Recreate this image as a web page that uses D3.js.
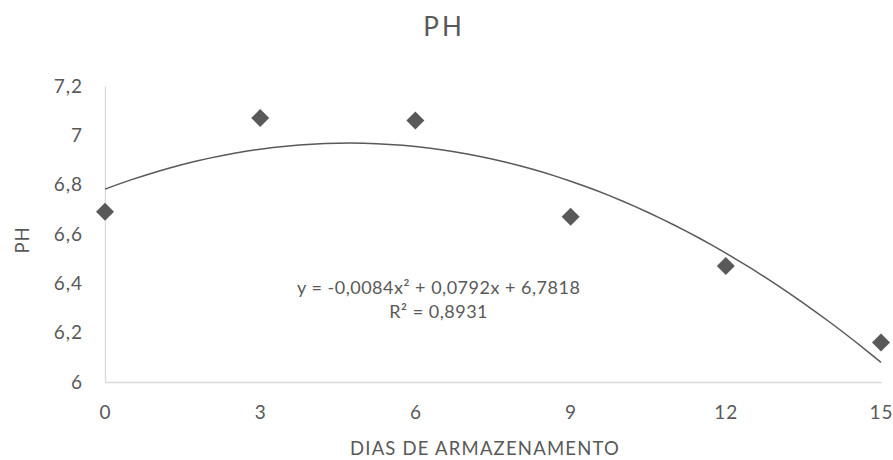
<!DOCTYPE html>
<html>
<head>
<meta charset="utf-8">
<script src="https://cdn.jsdelivr.net/npm/d3@7"></script>
<style>
  body { margin: 0; background: #fff; }
  text { font-family: Lato, "Open Sans", sans-serif; fill: #595959; }
</style>
</head>
<body>
<svg width="893" height="460"></svg>
<script>
// data
const dias = [0, 3, 6, 9, 12, 15];
const ph = [6.69, 7.07, 7.06, 6.67, 6.47, 6.16];
const xTicks = [0, 3, 6, 9, 12, 15];
const yTicks = [6, 6.2, 6.4, 6.6, 6.8, 7, 7.2];
// polynomial trendline coefficients (c0 + c1 x + c2 x^2), as shown on the chart
const trendCoef = [6.7818, 0.0792, -0.0084];
const trendLabel = ["y = -0,0084x² + 0,0792x + 6,7818", "R² = 0,8931"];

let svg = d3.select("svg");
let margin = {top: 86, right: 12, bottom: 78, left: 105};
let width = 893 - margin.left - margin.right, height = 460 - margin.top - margin.bottom;
let g = svg.append("g").attr("transform", "translate(" + margin.left + "," + margin.top + ")");

let x = d3.scaleLinear().domain([0, 15]).range([0, width]);
let y = d3.scaleLinear().domain([6, 7.2]).range([height, 0]);
let br = d3.formatLocale({decimal: ",", thousands: ".", grouping: [3], currency: ["", ""]});
let fmt = br.format("~g");

// axes
let xAxis = g.append("g")
  .attr("transform", "translate(0," + height + ")")
  .call(d3.axisBottom(x).tickValues(xTicks).tickSize(0).tickPadding(24).tickFormat(fmt));
let yAxis = g.append("g")
  .call(d3.axisLeft(y).tickValues(yTicks).tickSize(0).tickPadding(22).tickFormat(fmt));
[xAxis, yAxis].forEach(a => {
  a.select(".domain").attr("stroke", "#d9d9d9").attr("stroke-width", 1.3);
  a.selectAll("text")
    .attr("font-size", 19)
    .attr("letter-spacing", 1)
    .attr("font-family", "Lato, sans-serif")
    .attr("fill", "#595959");
});

// trendline
let line = d3.line()
  .x(d => x(d))
  .y(d => y(trendCoef[0] + trendCoef[1] * d + trendCoef[2] * d * d));
g.append("path")
  .datum(d3.range(0, 15.001, 0.25))
  .attr("fill", "none")
  .attr("stroke", "#595959")
  .attr("stroke-width", 1.5)
  .attr("d", line);

// points
g.selectAll(".pt")
  .data(dias.map((d, i) => ({x: d, y: ph[i]})))
  .enter().append("path")
  .attr("class", "pt")
  .attr("transform", d => "translate(" + x(d.x) + "," + y(d.y) + ")")
  .attr("d", "M0,-9L9,0L0,9L-9,0Z")
  .attr("fill", "#595959");

// trendline label
g.append("text")
  .attr("text-anchor", "middle")
  .attr("font-size", 18)
  .attr("letter-spacing", 0.5)
  .selectAll("tspan")
  .data(trendLabel)
  .enter().append("tspan")
  .attr("x", x(6.45))
  .attr("y", (d, i) => y(6.355) + i * 24)
  .text(d => d);

// titles
svg.append("text")
  .attr("x", 444).attr("y", 36)
  .attr("text-anchor", "middle")
  .attr("font-size", 26)
  .attr("letter-spacing", 3)
  .text("PH");

svg.append("text")
  .attr("x", 485).attr("y", 455)
  .attr("text-anchor", "middle")
  .attr("font-size", 18.5)
  .attr("letter-spacing", 1.2)
  .text("DIAS DE ARMAZENAMENTO");

svg.append("text")
  .attr("transform", "translate(29,240) rotate(-90)")
  .attr("text-anchor", "middle")
  .attr("font-size", 18.5)
  .attr("letter-spacing", 1)
  .text("PH");
</script>
</body>
</html>
